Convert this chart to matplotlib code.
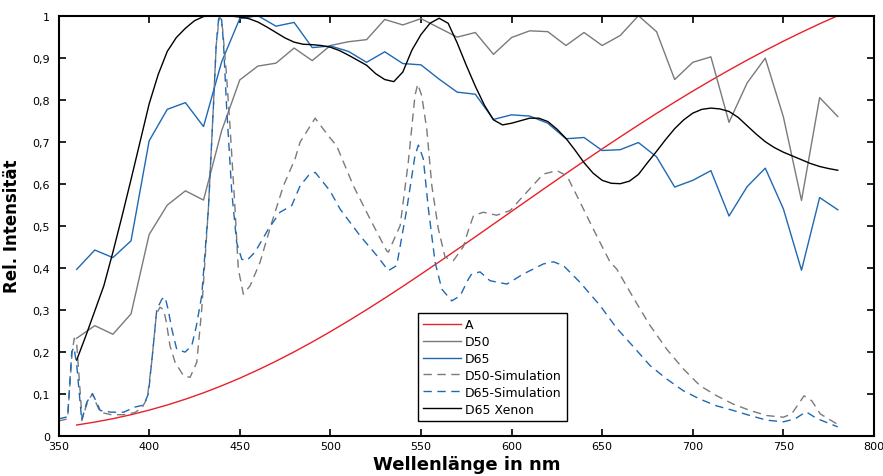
import matplotlib
matplotlib.use('Agg')
import matplotlib.pyplot as plt
from matplotlib.ticker import FuncFormatter

# CIE-type spectra, 10 nm steps, normalised to their maximum
wl10 = list(range(360, 790, 10))

a_vals = [0.0254, 0.0324, 0.0405, 0.0500, 0.0609, 0.0731, 0.0869, 0.1021, 0.1188,
          0.1369, 0.1565, 0.1774, 0.1996, 0.2231, 0.2477, 0.2734, 0.3000, 0.3274,
          0.3556, 0.3845, 0.4138, 0.4435, 0.4735, 0.5037, 0.5340, 0.5642, 0.5943,
          0.6241, 0.6537, 0.6829, 0.7115, 0.7397, 0.7673, 0.7942, 0.8204, 0.8458,
          0.8704, 0.8943, 0.9172, 0.9393, 0.9604, 0.9807, 1.0]

d50_vals = [0.232, 0.262, 0.2415, 0.290, 0.479, 0.549, 0.583, 0.561, 0.726, 0.847,
            0.880, 0.887, 0.923, 0.893, 0.929, 0.938, 0.943, 0.991, 0.978, 0.993,
            0.971, 0.949, 0.960, 0.908, 0.948, 0.964, 0.962, 0.929, 0.960, 0.929,
            0.953, 1.0, 0.962, 0.848, 0.889, 0.902, 0.746, 0.840, 0.899, 0.759,
            0.560, 0.805, 0.760]

d65_vals = [0.396, 0.442, 0.424, 0.464, 0.702, 0.777, 0.793, 0.736, 0.890, 0.993,
            1.0, 0.975, 0.984, 0.924, 0.928, 0.915, 0.889, 0.914, 0.886, 0.883,
            0.849, 0.818, 0.813, 0.753, 0.764, 0.761, 0.744, 0.707, 0.710, 0.679,
            0.681, 0.698, 0.664, 0.592, 0.608, 0.631, 0.523, 0.593, 0.637, 0.540,
            0.394, 0.567, 0.538]

# simulated spectra
sim50_wl = [350, 355, 357.5, 358.7, 360, 363, 366, 368.7, 371, 373, 379, 386, 392,
            396, 399, 401.4, 404, 406, 408, 409.5, 411.5, 414.3, 418.9, 422.6, 426.3,
            429, 432.7, 435.4, 437, 438.8, 440.5, 442.5, 444.6, 447.4, 449.2, 452,
            455.7, 461.2, 467.7, 474.1, 480.5, 483.3, 491.6, 498.9, 503.5, 512.7,
            521.9, 531.1, 532, 538.5, 543, 546.7, 548.2, 550.4, 553.2, 556, 559.6,
            563.3, 567.9, 573.4, 576.2, 579, 584.4, 591.8, 599.2, 608.4, 617.5, 625,
            630.5, 637.8, 645.1, 650, 654.4, 658, 667, 676, 685.6, 694.8, 704, 713.2,
            722.4, 731.6, 740.8, 750, 754.6, 761.4, 765.7, 770.3, 779.5]
sim50_vals = [0.035, 0.04, 0.20, 0.232, 0.22, 0.04, 0.08, 0.10, 0.075, 0.056, 0.05,
              0.05, 0.055, 0.066, 0.09, 0.175, 0.29, 0.306, 0.30, 0.27, 0.214, 0.175,
              0.143, 0.139, 0.175, 0.30, 0.54, 0.78, 0.93, 1.0, 0.97, 0.87, 0.738,
              0.54, 0.397, 0.337, 0.357, 0.413, 0.508, 0.595, 0.659, 0.699, 0.756,
              0.714, 0.69, 0.595, 0.516, 0.44, 0.437, 0.50, 0.651, 0.81, 0.837, 0.81,
              0.73, 0.595, 0.492, 0.425, 0.417, 0.45, 0.49, 0.524, 0.532, 0.525,
              0.536, 0.58, 0.623, 0.631, 0.619, 0.556, 0.492, 0.45, 0.413, 0.397,
              0.33, 0.265, 0.206, 0.159, 0.119, 0.095, 0.075, 0.06, 0.048, 0.044,
              0.052, 0.095, 0.083, 0.052, 0.028]

sim65_wl = [350, 355, 357.3, 358.5, 360, 362.8, 365.6, 368.7, 371, 373, 379, 386,
            392, 397, 399.6, 402.3, 404.2, 407, 408.8, 410.5, 412.5, 415.2, 419.8,
            423.5, 426, 429, 432.7, 435.4, 437, 438.5, 440, 441, 442.8, 445.6, 448.3,
            451.1, 453.9, 458.4, 465.8, 472.2, 478.7, 483.3, 488, 491.6, 499.8,
            505.3, 516.4, 525.6, 532, 536.6, 542.2, 546.7, 548.6, 551.3, 554.1,
            557.8, 561.5, 567, 571.6, 576.2, 578, 582.6, 588.1, 597.4, 606.5, 617.6,
            623.1, 628.6, 637.8, 648.8, 658, 667.2, 676.4, 685.6, 694.8, 704, 713.2,
            722.4, 731.6, 740.8, 750, 756.4, 762.5, 768.4, 780]
sim65_vals = [0.040, 0.045, 0.20, 0.21, 0.17, 0.036, 0.08, 0.10, 0.08, 0.06, 0.056,
              0.056, 0.068, 0.073, 0.10, 0.214, 0.30, 0.325, 0.33, 0.30, 0.254,
              0.206, 0.199, 0.214, 0.26, 0.333, 0.54, 0.778, 0.93, 1.0, 0.99, 0.937,
              0.778, 0.58, 0.46, 0.42, 0.417, 0.437, 0.492, 0.532, 0.548, 0.595,
              0.62, 0.627, 0.583, 0.54, 0.476, 0.429, 0.393, 0.405, 0.54, 0.667,
              0.692, 0.659, 0.54, 0.413, 0.349, 0.321, 0.333, 0.373, 0.385, 0.39,
              0.369, 0.361, 0.385, 0.409, 0.414, 0.405, 0.365, 0.31, 0.256, 0.212,
              0.167, 0.135, 0.107, 0.087, 0.071, 0.06, 0.048, 0.037, 0.033, 0.04,
              0.057, 0.041, 0.021]

# D65 xenon lamp, 5 nm steps
xenon_wl = list(range(360, 785, 5))
xenon_vals = [0.18, 0.237, 0.297, 0.357, 0.437, 0.522, 0.61, 0.70, 0.79, 0.86,
              0.915, 0.948, 0.970, 0.988, 0.998, 1.0, 1.0, 0.999, 0.997, 0.993,
              0.985, 0.973, 0.96, 0.947, 0.937, 0.932, 0.931, 0.929, 0.925, 0.917,
              0.906, 0.894, 0.882, 0.862, 0.848, 0.843, 0.866, 0.918, 0.955, 0.982,
              0.994, 0.982, 0.935, 0.882, 0.832, 0.787, 0.752, 0.740, 0.744, 0.750,
              0.756, 0.756, 0.748, 0.730, 0.708, 0.68, 0.65, 0.625, 0.608, 0.601,
              0.600, 0.606, 0.622, 0.650, 0.677, 0.705, 0.731, 0.752, 0.768, 0.777,
              0.780, 0.778, 0.772, 0.758, 0.738, 0.718, 0.700, 0.686, 0.675, 0.666,
              0.657, 0.648, 0.641, 0.636, 0.632]

red = '#e8202a'
blue = '#1f68b4'
grey = '#7a7a7a'

fig = plt.figure(figsize=(8.83, 4.77), dpi=100)
ax = fig.add_axes([0.0663, 0.0845, 0.9235, 0.8805])

ax.plot(wl10, a_vals, color=red, lw=1.0, label='A')
ax.plot(wl10, d50_vals, color=grey, lw=1.0, label='D50')
ax.plot(wl10, d65_vals, color=blue, lw=1.0, label='D65')
ax.plot(sim50_wl, sim50_vals, color=grey, lw=1.0, dashes=(6, 4), label='D50-Simulation')
ax.plot(sim65_wl, sim65_vals, color=blue, lw=1.0, dashes=(6, 4), label='D65-Simulation')
ax.plot(xenon_wl, xenon_vals, color='black', lw=1.0, label='D65 Xenon')

ax.set_xlim(350, 800)
ax.set_ylim(0, 1)
ax.set_xticks(range(350, 801, 50))
ax.set_yticks([i / 10 for i in range(11)])
ax.yaxis.set_major_formatter(FuncFormatter(lambda v, p: ('%g' % round(v, 1)).replace('.', ',')))
ax.tick_params(direction='in', top=True, right=True, length=5, width=1.2,
               labelsize=8, pad=6)
ax.tick_params(axis='x', pad=4)
for s in ax.spines.values():
    s.set_linewidth(1.5)

ax.set_xlabel('Wellenlänge in nm', fontsize=13, fontweight='bold', labelpad=3)
ax.set_ylabel('Rel. Intensität', fontsize=12, fontweight='bold', labelpad=8)

leg = ax.legend(loc='lower left', bbox_to_anchor=(0.441, 0.036), borderaxespad=0,
                fontsize=9, fancybox=False, edgecolor='black', framealpha=1,
                handlelength=3.0, handletextpad=0.35, labelspacing=0.31,
                borderpad=0.4)
leg.get_frame().set_linewidth(1.0)

fig.savefig('out.png', dpi=100)
